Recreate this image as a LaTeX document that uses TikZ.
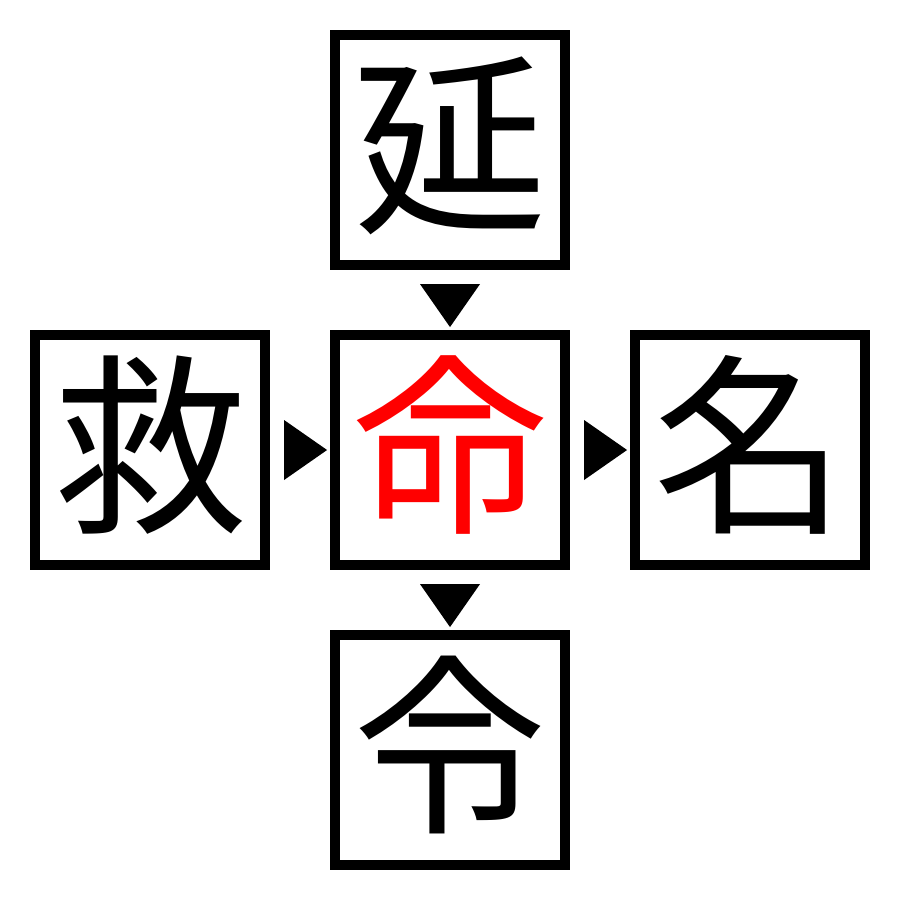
\documentclass[tikz,border=0pt]{standalone}
\usepackage{fontspec}
\newfontfamily\cjk{Noto Sans CJK JP}
\begin{document}
\begin{tikzpicture}[x=0.01cm,y=-0.01cm,
  charbox/.style={draw=black,line width=0.1cm,minimum size=2.3cm,inner sep=0pt,
    font=\cjk\fontsize{55}{55}\selectfont,text height=47pt,text depth=8pt},
  tri/.style={fill=black}]
\useasboundingbox (0,0) rectangle (900,900);
\node[charbox] (top) at (450,150) {延};
\node[charbox] (left) at (150,450) {救};
\node[charbox,text=red] (mid) at (450,450) {命};
\node[charbox] (right) at (750,450) {名};
\node[charbox] (bot) at (450,750) {令};
% arrow heads between boxes
\fill[tri] ([shift={(-30,14)}]top.south) -- ([shift={(30,14)}]top.south) -- ([shift={(0,57)}]top.south) -- cycle;
\fill[tri] ([shift={(-30,14)}]mid.south) -- ([shift={(30,14)}]mid.south) -- ([shift={(0,57)}]mid.south) -- cycle;
\fill[tri] ([shift={(14,-30)}]left.east) -- ([shift={(14,30)}]left.east) -- ([shift={(57,0)}]left.east) -- cycle;
\fill[tri] ([shift={(14,-30)}]mid.east) -- ([shift={(14,30)}]mid.east) -- ([shift={(57,0)}]mid.east) -- cycle;
\end{tikzpicture}
\end{document}
